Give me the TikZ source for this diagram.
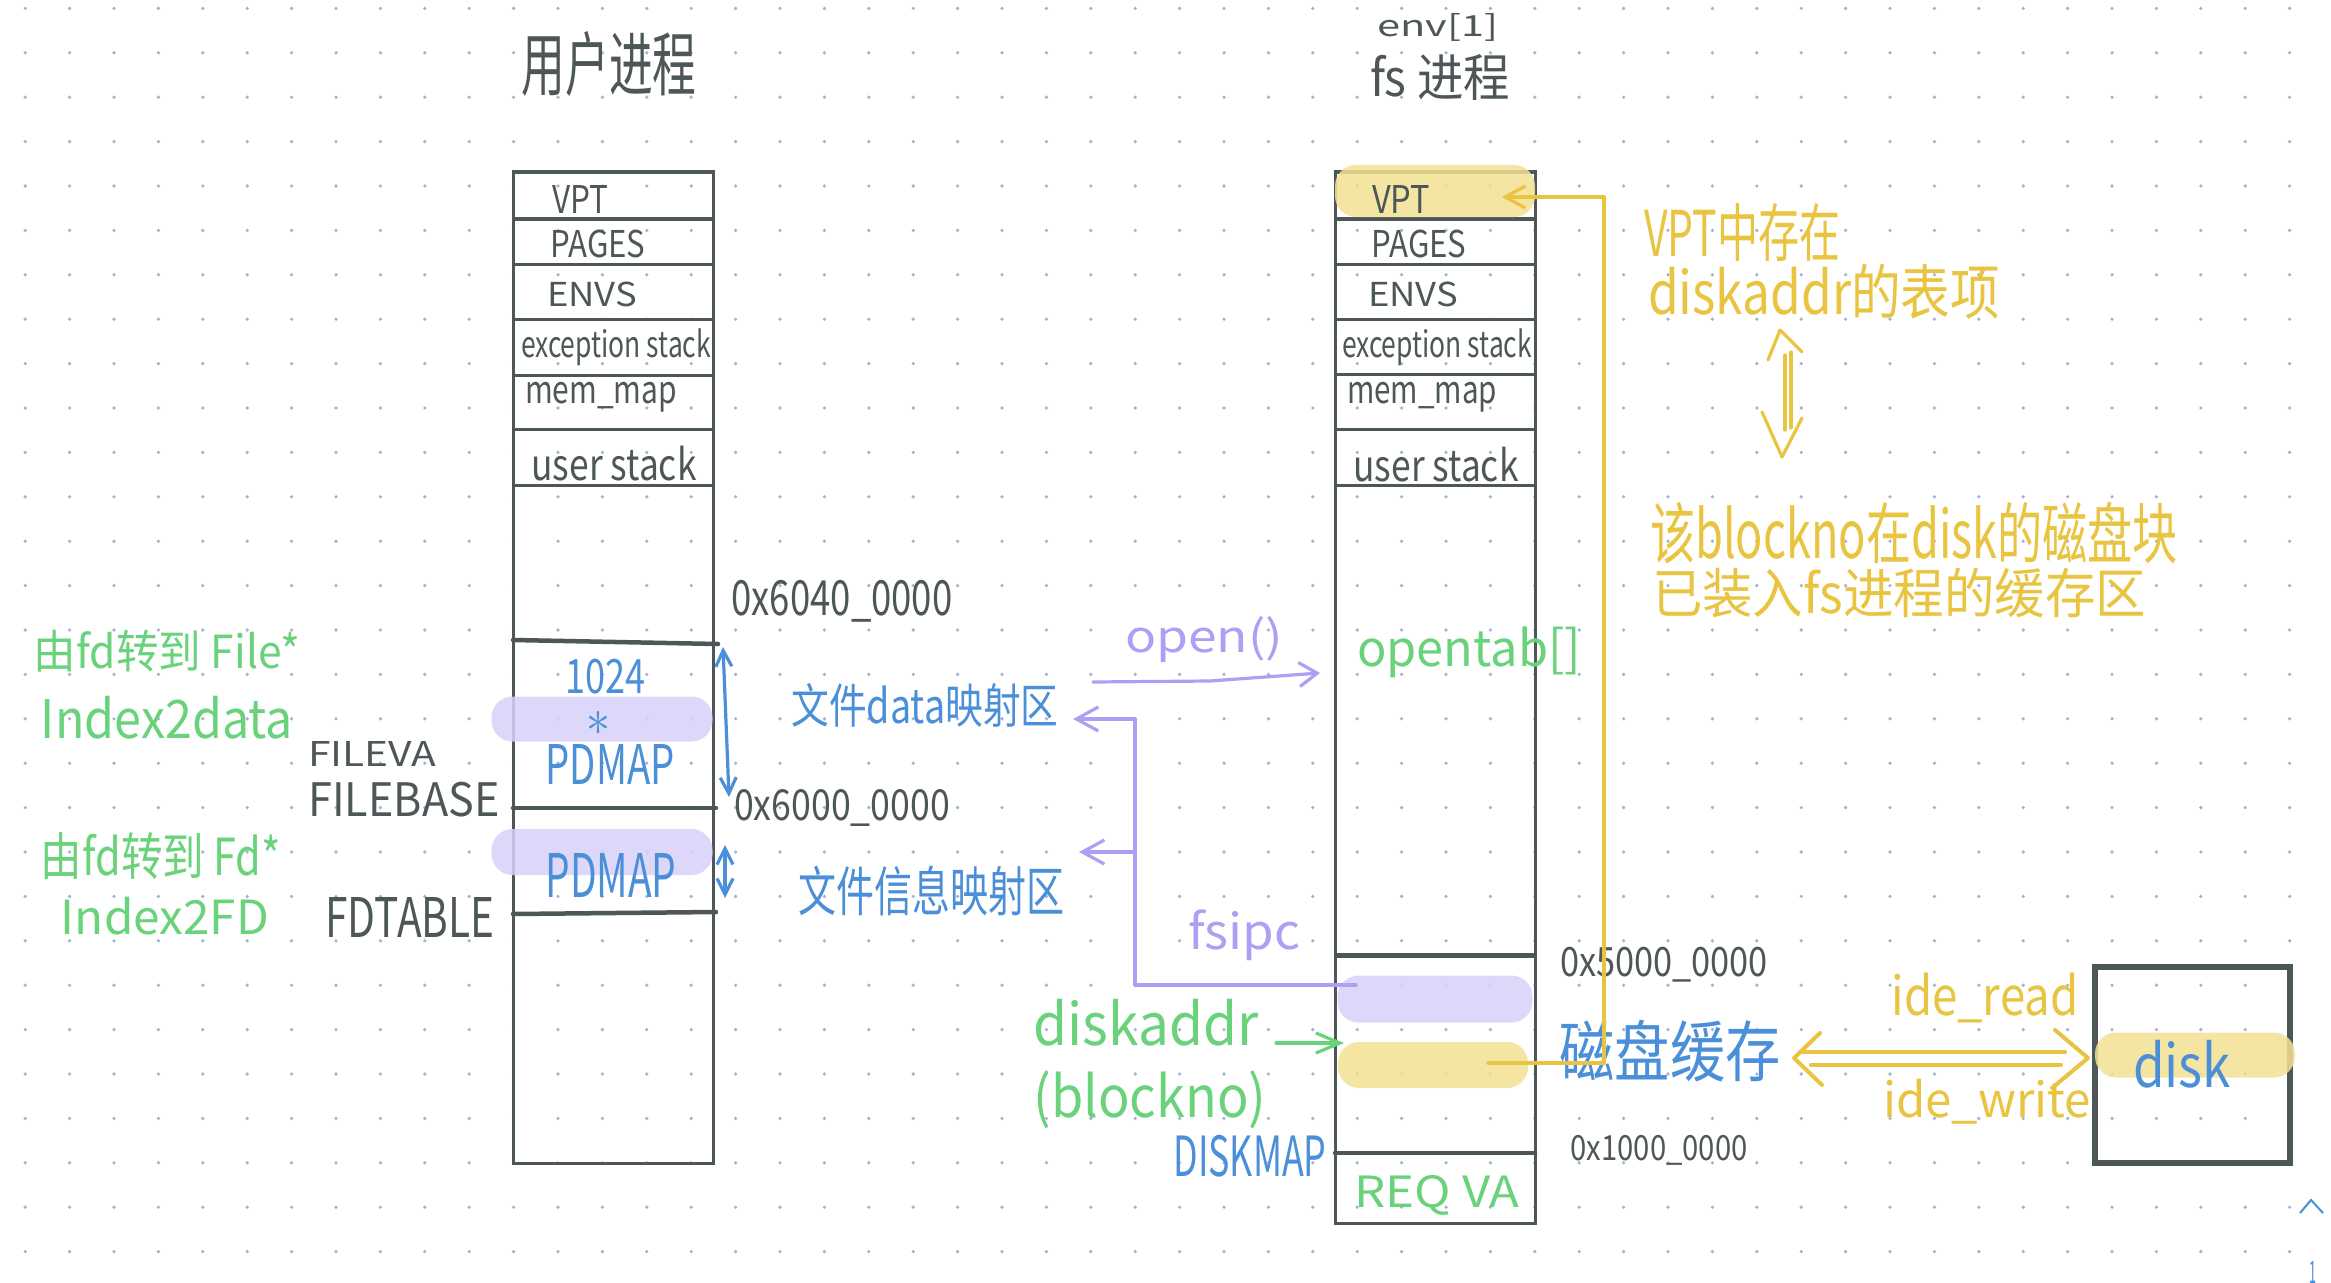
\documentclass[tikz,border=0pt]{standalone}
\usepackage{fontspec}
\usepackage{graphicx}
\setmainfont{Noto Sans CJK SC}
\usetikzlibrary{arrows.meta,calc}
\newlength\upx
\setlength\upx{0.01cm}
\newcommand\fitt[3]{\resizebox*{#1\upx}{#2\upx}{#3}}
\definecolor{ink}{HTML}{4E5757}
\definecolor{hgreen}{HTML}{69D27B}
\definecolor{hblue}{HTML}{4A8FD8}
\definecolor{hpurple}{HTML}{AE9FF4}
\definecolor{ppill}{HTML}{D8D2F8}
\definecolor{hyellow}{HTML}{E9C440}
\definecolor{ypill}{HTML}{F3E194}
\definecolor{dotc}{HTML}{A5B1D0}
\begin{document}
\begin{tikzpicture}[x=0.01cm,y=-0.01cm,
  lbl/.style={inner sep=0pt,outer sep=0pt},
  boxline/.style={draw=ink,line width=0.03cm},
  thickdiv/.style={draw=ink,line width=0.045cm,line cap=round},
  pillbox/.style={rounded corners=0.21cm,inner sep=0pt,outer sep=0pt,fill opacity=0.85,draw=none},
  hand/.style={line width=0.032cm,line cap=round,line join=round},
  pline/.style={hand,draw=hpurple},
  yline/.style={hand,draw=hyellow},
  gline/.style={hand,draw=hgreen},
  bline/.style={hand,draw=hblue},
  barb/.style={-{Straight Barb[length=0.22cm,width=0.24cm]}},
  dbarb/.style={{Straight Barb[length=0.16cm,width=0.16cm]}-{Straight Barb[length=0.16cm,width=0.16cm]}}
]
\useasboundingbox (0,0) rectangle (2331,1282);
\fill[white] (0,0) rectangle (2331,1282);
% dot grid
\foreach \i in {0,...,52}{\foreach \j in {0,...,28}{
  \fill[dotc] (25.2+44.4*\i,8.4+44.4*\j) circle[radius=0.018cm];}}

% ---------- user process column ----------
\draw[boxline] (513,172) rectangle (713,1163);
\foreach \yy in {219,264,319,375,429,485} \draw[boxline] (513,\yy) -- (713,\yy);
\draw[thickdiv] (513,640) -- (718,644);
\draw[thickdiv] (513,808) -- (716,808);
\draw[thickdiv] (513,914) -- (716,912);

% ---------- fs process column ----------
\draw[boxline] (1335,172) rectangle (1535,1223);
\foreach \yy in {219,264,319,374,429,485} \draw[boxline] (1335,\yy) -- (1535,\yy);
\draw[draw=ink,line width=0.05cm] (1335,955) -- (1535,955);
\draw[thickdiv] (1335,1153) -- (1535,1153);

% ---------- disk box ----------
\draw[draw=ink,line width=0.06cm] (2095,967) rectangle (2290,1163);

% ---------- highlights ----------
\node[pillbox,fill=ypill,minimum width=200\upx,minimum height=52\upx] (vptHL) at (1435,191) {};
\node[pillbox,fill=ppill,minimum width=221\upx,minimum height=45\upx] (ppL1) at (602,719) {};
\node[pillbox,fill=ppill,minimum width=221\upx,minimum height=46\upx] (ppL2) at (602,852) {};
\node[pillbox,fill=ppill,minimum width=195\upx,minimum height=47\upx] (ppR) at (1435,999) {};
\node[pillbox,fill=ypill,minimum width=190\upx,minimum height=46\upx] (ypR) at (1433,1065) {};
\node[pillbox,fill=ypill,minimum width=200\upx,minimum height=45\upx] (ypDisk) at (2195,1055) {};

% ---------- titles ----------
\node[lbl,text=ink] (tUser) at (609,64) {\fitt{175}{65}{用户进程}};
\node[lbl,text=ink] (tEnv) at (1438,27) {\fitt{121}{28}{env[1]}};
\node[lbl,text=ink] (tFs) at (1440,77) {\fitt{140}{46}{fs 进程}};

% ---------- segment labels, user ----------
\node[lbl,text=ink] (uVPT) at (580,199) {\fitt{56}{28}{VPT}};
\node[lbl,text=ink] (uPAGES) at (598,244) {\fitt{95}{28}{PAGES}};
\node[lbl,text=ink] (uENVS) at (592,294) {\fitt{90}{25}{ENVS}};
\node[lbl,text=ink] (uExc) at (616,347) {\fitt{190}{37}{exception stack}};
\node[lbl,text=ink] (uMem) at (601,397) {\fitt{152}{30}{mem\_map}};
\node[lbl,text=ink] (uUser) at (614,464) {\fitt{165}{35}{user stack}};

% ---------- segment labels, fs ----------
\node[lbl,text=ink] (fVPT) at (1401,199) {\fitt{58}{28}{VPT}};
\node[lbl,text=ink] (fPAGES) at (1419,244) {\fitt{95}{28}{PAGES}};
\node[lbl,text=ink] (fENVS) at (1413,294) {\fitt{90}{25}{ENVS}};
\node[lbl,text=ink] (fExc) at (1437,347) {\fitt{190}{37}{exception stack}};
\node[lbl,text=ink] (fMem) at (1422,397) {\fitt{150}{30}{mem\_map}};
\node[lbl,text=ink] (fUser) at (1436,465) {\fitt{165}{35}{user stack}};

% ---------- left notes ----------
\node[lbl,text=hgreen] (fd2file) at (167,651) {\fitt{266}{42}{由fd转到 File*}};
\node[lbl,text=hgreen] (idx2data) at (167,718) {\fitt{252}{43}{Index2data}};
\node[lbl,text=hgreen] (fd2fd) at (161,856) {\fitt{240}{47}{由fd转到 Fd*}};
\node[lbl,text=hgreen] (idx2fd) at (165,916) {\fitt{208}{38}{Index2FD}};
\node[lbl,text=ink] (fileva) at (372,754) {\fitt{128}{25}{FILEVA}};
\node[lbl,text=ink] (filebase) at (404,800) {\fitt{191}{35}{FILEBASE}};
\node[lbl,text=ink] (fdtable) at (410,917) {\fitt{169}{40}{FDTABLE}};

% ---------- inside user box: 1024 * PDMAP as one stacked text ----------
\node[lbl,text=hblue] (pdexpr) at (610,722) {\vbox{\offinterlineskip
  \hbox to 140\upx{\hss\fitt{80}{35}{1024}\hss\hskip10\upx}
  \vskip17\upx
  \hbox to 140\upx{\hss\fitt{24}{24}{$\ast$}\hss\hskip24\upx}
  \vskip9\upx
  \hbox to 140\upx{\hss\fitt{129}{40}{PDMAP}\hss}}};
\node[lbl,text=hblue] (pdmap2) at (611,875) {\fitt{131}{44}{PDMAP}};

% ---------- addresses ----------
\node[lbl,text=ink] (a6040) at (842,601) {\fitt{221}{42}{0x6040\_0000}};
\node[lbl,text=ink] (a6000) at (842,808) {\fitt{216}{37}{0x6000\_0000}};
\node[lbl,text=ink] (a5000) at (1664,965) {\fitt{208}{35}{0x5000\_0000}};
\node[lbl,text=ink] (a1000) at (1659,1150) {\fitt{177}{30}{0x1000\_0000}};

% ---------- region labels ----------
\node[lbl,text=hblue] (dataReg) at (925,705) {\fitt{267}{44}{文件data映射区}};
\node[lbl,text=hblue] (infoReg) at (931,891) {\fitt{266}{50}{文件信息映射区}};
\node[lbl,text=hpurple] (openL) at (1204,640) {\fitt{158}{46}{open()}};
\node[lbl,text=hgreen] (opentab) at (1469,652) {\fitt{224}{51}{opentab[]}};
\node[lbl,text=hpurple] (fsipc) at (1244,935) {\fitt{112}{51}{fsipc}};
\node[lbl,text=hgreen] (diskaddr) at (1146,1023) {\fitt{225}{47}{diskaddr}};
\node[lbl,text=hgreen] (blockno) at (1150,1100) {\fitt{233}{58}{(blockno)}};
\node[lbl,text=hblue] (diskmap) at (1250,1156) {\fitt{153}{42}{DISKMAP}};
\node[lbl,text=hgreen] (reqva) at (1437,1195) {\fitt{165}{40}{REQ VA}};
\node[lbl,text=hblue] (cache) at (1670,1051) {\fitt{221}{62}{磁盘缓存}};
\node[lbl,text=hyellow] (ideR) at (1985,998) {\fitt{187}{50}{ide\_read}};
\node[lbl,text=hyellow] (ideW) at (1987,1102) {\fitt{208}{45}{ide\_write}};
\node[lbl,text=hblue] (diskL) at (2182,1064) {\fitt{98}{48}{disk}};

% ---------- yellow notes ----------
\node[lbl,text=hyellow,anchor=west] (noteA) at (1644,232) {\fitt{196}{58}{VPT中存在}};
\node[lbl,text=hyellow,anchor=west] (noteB) at (1648,292) {\fitt{352}{55}{diskaddr的表项}};
\node[lbl,text=hyellow,anchor=west] (noteC) at (1650,533) {\fitt{528}{62}{该blockno在disk的磁盘块}};
\node[lbl,text=hyellow,anchor=west] (noteD) at (1652,593) {\fitt{494}{50}{已装入fs进程的缓存区}};

% ---------- connectors ----------
% blue extents
\coordinate (b1t) at (723,647);
\coordinate (b1b) at (729,797);
\coordinate (b2t) at (725,845);
\coordinate (b2b) at (725,898);
\draw[bline,dbarb] (b1t) -- (b1b);
\draw[bline,dbarb] (b2t) -- (b2b);

% purple fsipc path
\coordinate (pS) at (1356,985);
\coordinate (pJ) at (1135,852);
\coordinate (dataTip) at (1073,719);
\coordinate (infoTip) at (1079,852);
\draw[pline,barb] (pS) -- (pS -| pJ) -- (pJ |- dataTip) -- (dataTip);
\draw[pline,barb] (pJ) -- (infoTip);
% open()
\coordinate (openS) at (1093,682);
\coordinate (openE) at (1320,673);
\draw[pline,-{Straight Barb[length=0.18cm,width=0.24cm]}] (openS) -- (1210,681) -- (openE);

% yellow VPT link
\coordinate (yS) at (1488,1063);
\coordinate (yC) at (1604,1063);
\coordinate (vptTip) at (1502,197);
\draw[yline,-{Straight Barb[length=0.2cm,width=0.22cm]}] (yS) -- (yC) -- (yC |- vptTip) -- (vptTip);

% green diskaddr arrow
\coordinate (gS) at (1276,1043);
\coordinate (gE) at (1344,1043);
\draw[gline,-{Straight Barb[length=0.24cm,width=0.2cm]}] (gS) -- (gE);

% yellow double arrow cache <-> disk
\coordinate (dblL) at (1794,1058);
\coordinate (dblR) at (2088,1058);
\draw[yline,line width=0.04cm] ($(dblL)+(26,-25)$) -- (dblL) -- ($(dblL)+(28,27)$);
\draw[yline,line width=0.04cm] ($(dblR)+(-33,-28)$) -- (dblR) -- ($(dblR)+(-36,30)$);
\draw[yline,line width=0.04cm] ($(dblL)+(6,-6)$) -- ($(dblR)+(-23,-6)$);
\draw[yline,line width=0.04cm] ($(dblL)+(17,7)$) -- ($(dblR)+(-27,7)$);

% yellow vertical double arrow between notes
\coordinate (vTop) at (1780,330);
\coordinate (vBot) at (1782,457);
\draw[yline] ($(vTop)+(-12,30)$) -- (vTop) -- ($(vTop)+(22,22)$);
\draw[yline] ($(vTop)+(5,25)$) -- ($(vTop)+(5,100)$);
\draw[yline] ($(vTop)+(11,22)$) -- ($(vTop)+(11,98)$);
\draw[yline] ($(vBot)+(-20,-45)$) -- (vBot) -- ($(vBot)+(20,-39)$);

% corner marks
\draw[hblue,line width=0.02cm] (2300,1213) -- (2311,1200) -- (2323,1213);
\node[lbl,text=hblue] (pageNo) at (2313,1272) {\fitt{7}{22}{1}};
\end{tikzpicture}
\end{document}
